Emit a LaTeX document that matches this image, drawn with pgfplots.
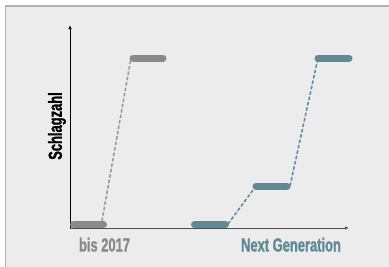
\documentclass[border=0pt]{standalone}
\usepackage{fontspec}
\setmainfont{Liberation Sans}[FakeStretch=0.68, FakeBold=1.2]
\usepackage{pgfplots}
\pgfplotsset{compat=1.18}
\usetikzlibrary{arrows.meta}
\definecolor{bggray}{HTML}{ECECEC}
\definecolor{framegray}{HTML}{B0B0B0}
\definecolor{bargray}{HTML}{8A8A8A}
\definecolor{dashgray}{HTML}{959595}
\definecolor{teal2}{HTML}{5E8A94}
\begin{document}
\begin{tikzpicture}
\useasboundingbox (-70pt,-38pt) rectangle (319pt,228pt);
\fill[bggray] (-64.5pt,-50pt) rectangle (330pt,222pt);
\draw[framegray, line width=1.2pt] (-64.5pt,-50pt) -- (-64.5pt,222pt) -- (330pt,222pt);
\begin{axis}[
  at={(0pt,0pt)}, anchor=origin,
  x=1pt, y=1pt,
  xmin=0, xmax=279, ymin=0, ymax=203,
  axis lines=left,
  x axis line style={draw=black!70, line width=0.9pt, -{Latex[length=4pt,width=3.5pt]}},
  y axis line style={draw=black, line width=0.9pt, -{Latex[length=4pt,width=3.5pt]}},
  xtick=\empty, ytick=\empty,
  clip=false,
  font=\bfseries,
]
% dashed connectors
\addplot[dashgray, line width=1.5pt, dash pattern=on 3.5pt off 2pt] coordinates {(32,7) (61,170)};
\addplot[teal2, line width=1.5pt, dash pattern=on 3.5pt off 2pt] coordinates {(158,4) (186,42)};
\addplot[teal2, line width=1.5pt, dash pattern=on 3.5pt off 2pt] coordinates {(220,42) (248,170)};
% bars
\addplot[bargray, line width=7pt, line cap=round] coordinates {(3.5,3.5) (33.5,3.5)};
\addplot[bargray, line width=7pt, line cap=round] coordinates {(63,170) (93,170)};
\addplot[teal2, line width=7pt, line cap=round] coordinates {(124.5,3.5) (155.5,3.5)};
\addplot[teal2, line width=7pt, line cap=round] coordinates {(186,42) (217,42)};
\addplot[teal2, line width=7pt, line cap=round] coordinates {(248,170) (279,170)};
\node[bargray, font=\fontsize{19}{22}\selectfont\bfseries, anchor=base] at (axis cs:34.5,-23.5) {bis 2017};
\node[teal2, font=\fontsize{19}{22}\selectfont\bfseries, anchor=base] at (axis cs:221,-23.5) {Next Generation};
\node[black, font=\fontsize{19}{22}\selectfont\bfseries, rotate=90] at (axis cs:-13,102) {Schlagzahl};
\end{axis}
\end{tikzpicture}
\end{document}
